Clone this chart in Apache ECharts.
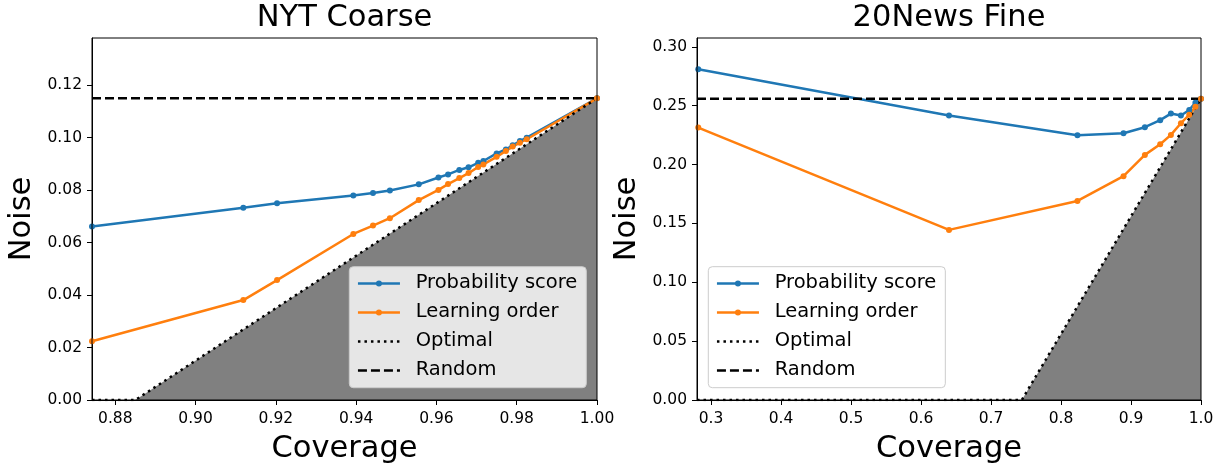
<!DOCTYPE html>
<html>
<head>
<meta charset="utf-8">
<title>Noise vs Coverage</title>
<script src="https://cdn.jsdelivr.net/npm/echarts@6/dist/echarts.min.js"></script>
<style>
  html, body { margin: 0; padding: 0; background: #fff; }
  #chart { width: 1225px; height: 467px; }
</style>
</head>
<body>
<div id="chart"></div>
<script>
// ---- NYT Coarse ----
const nytCoverage    = [0.8742, 0.9119, 0.9203, 0.9393, 0.9442, 0.9484, 0.9556, 0.9605, 0.9629, 0.9657, 0.9680, 0.9704, 0.9717, 0.9750, 0.9773, 0.9790, 0.9808, 0.9825, 1.0];
const nytProbability = [0.0661, 0.0733, 0.0750, 0.0780, 0.0789, 0.0799, 0.0822, 0.0848, 0.0860, 0.0877, 0.0887, 0.0904, 0.0911, 0.0940, 0.0955, 0.0971, 0.0987, 0.1000, 0.1150];
const nytLearning    = [0.0224, 0.0381, 0.0457, 0.0633, 0.0665, 0.0693, 0.0762, 0.0801, 0.0823, 0.0846, 0.0865, 0.0888, 0.0898, 0.0927, 0.0949, 0.0966, 0.0981, 0.0994, 0.1150];
const nytOptimalX    = [0.8742, 0.885, 1.0];
const nytOptimalY    = [0, 0, 0.115];
const nytRandomX     = [0.8742, 1.0];
const nytRandomY     = [0.115, 0.115];
const nytXTicks      = [0.88, 0.90, 0.92, 0.94, 0.96, 0.98, 1.00];
const nytYTicks      = [0.00, 0.02, 0.04, 0.06, 0.08, 0.10, 0.12];

// ---- 20News Fine ----
const newsCoverage    = [0.2818, 0.6400, 0.8235, 0.8893, 0.9198, 0.9417, 0.9570, 0.9713, 0.9832, 0.9920, 1.0];
const newsProbability = [0.2810, 0.2416, 0.2249, 0.2266, 0.2317, 0.2377, 0.2433, 0.2416, 0.2464, 0.2525, 0.2560];
const newsLearning    = [0.2314, 0.1445, 0.1691, 0.1901, 0.2082, 0.2173, 0.2252, 0.2351, 0.2422, 0.2490, 0.2560];
const newsOptimalX    = [0.28, 0.744, 1.0];
const newsOptimalY    = [0, 0, 0.256];
const newsRandomX     = [0.28, 1.0];
const newsRandomY     = [0.256, 0.256];
const newsXTicks      = [0.3, 0.4, 0.5, 0.6, 0.7, 0.8, 0.9, 1.0];
const newsYTicks      = [0.00, 0.05, 0.10, 0.15, 0.20, 0.25, 0.30];

const FONT = 'DejaVu Sans';
const BLUE = '#1f77b4';
const ORANGE = '#ff7f0e';
const LINE_W = 2.5;

function zip(xs, ys) { return xs.map((x, i) => [x, ys[i]]); }

function xAxisFor(gridIndex, min, max, ticks, digits) {
  return {
    type: 'value', gridIndex, min, max,
    name: 'Coverage', nameLocation: 'middle', nameGap: 28.5,
    nameTextStyle: { fontFamily: FONT, fontSize: 30.5, color: '#000', lineHeight: 36 },
    axisLine: { show: true, onZero: false, lineStyle: { color: '#000', width: 1 } },
    axisTick: { show: true, length: 5, customValues: ticks, lineStyle: { color: '#000', width: 1 } },
    axisLabel: { customValues: ticks, formatter: v => v.toFixed(digits), margin: 10.5,
                 fontFamily: FONT, fontSize: 15.5, lineHeight: 16, color: '#000' },
    splitLine: { show: false }
  };
}

function yAxisFor(gridIndex, min, max, ticks) {
  return {
    type: 'value', gridIndex, min, max,
    name: 'Noise', nameLocation: 'middle', nameGap: 52,
    nameTextStyle: { fontFamily: FONT, fontSize: 30.5, color: '#000', lineHeight: 36 },
    axisLine: { show: true, onZero: false, lineStyle: { color: '#000', width: 1 } },
    axisTick: { show: true, length: 5, customValues: ticks, lineStyle: { color: '#000', width: 1 } },
    axisLabel: { customValues: ticks, formatter: v => v.toFixed(2), margin: 10,
                 fontFamily: FONT, fontSize: 15.5, color: '#000' },
    splitLine: { show: false }
  };
}

function panelSeries(idx, cov, prob, learn, optX, optY, rndX, rndY) {
  const axes = { xAxisIndex: idx, yAxisIndex: idx };
  return [
    Object.assign({
      type: 'line', name: 'feasible region', data: zip(optX, optY), symbol: 'none', silent: true,
      lineStyle: { width: 0 }, areaStyle: { color: '#808080', opacity: 1 }, z: 1
    }, axes),
    Object.assign({
      type: 'line', name: 'Probability score', data: zip(cov, prob),
      symbol: 'circle', symbolSize: 6, showSymbol: true,
      lineStyle: { color: BLUE, width: LINE_W }, itemStyle: { color: BLUE }, z: 3
    }, axes),
    Object.assign({
      type: 'line', name: 'Learning order', data: zip(cov, learn),
      symbol: 'circle', symbolSize: 6, showSymbol: true,
      lineStyle: { color: ORANGE, width: LINE_W }, itemStyle: { color: ORANGE }, z: 3
    }, axes),
    Object.assign({
      type: 'line', name: 'Optimal', data: zip(optX, optY), symbol: 'none',
      lineStyle: { color: '#000', width: LINE_W, type: [2.5, 4] }, itemStyle: { color: '#000' }, z: 3
    }, axes),
    Object.assign({
      type: 'line', name: 'Random', data: zip(rndX, rndY), symbol: 'none',
      lineStyle: { color: '#000', width: LINE_W, type: [9, 4] }, itemStyle: { color: '#000' }, z: 3
    }, axes)
  ];
}

function legendAt(left) {
  return {
    orient: 'vertical', left, top: 266.7,
    data: [
      { name: 'Probability score' },
      { name: 'Learning order' },
      { name: 'Optimal', itemStyle: { opacity: 0 } },
      { name: 'Random', itemStyle: { opacity: 0 } }
    ],
    itemWidth: 42, itemHeight: 7.5, itemGap: 5,
    padding: [4.7, 9, 5.3, 7.4],
    backgroundColor: 'rgba(255,255,255,0.8)',
    borderColor: '#cccccc', borderWidth: 1, borderRadius: 4,
    selectedMode: false,
    lineStyle: { width: LINE_W },
    textStyle: { fontFamily: FONT, fontSize: 19.5, color: '#000', lineHeight: 24, padding: [0, 0, 0, 10.7] }
  };
}

const chart = echarts.init(document.getElementById('chart'), null, { renderer: 'canvas' });

chart.setOption({
  animation: false,
  backgroundColor: '#fff',
  title: [
    { text: 'NYT Coarse', left: 344.5, top: 0, padding: 0, textAlign: 'center',
      textStyle: { fontFamily: FONT, fontSize: 30.5, fontWeight: 'normal', color: '#000', lineHeight: 36 } },
    { text: '20News Fine', left: 949, top: 0, padding: 0, textAlign: 'center',
      textStyle: { fontFamily: FONT, fontSize: 30.5, fontWeight: 'normal', color: '#000', lineHeight: 36 } }
  ],
  grid: [
    { left: 92, top: 38, width: 505, height: 362, show: true, borderColor: '#000', borderWidth: 1,
      backgroundColor: 'transparent', z: 5, containLabel: false, outerBoundsMode: 'none' },
    { left: 697, top: 38, width: 504, height: 362, show: true, borderColor: '#000', borderWidth: 1,
      backgroundColor: 'transparent', z: 5, containLabel: false, outerBoundsMode: 'none' }
  ],
  xAxis: [
    xAxisFor(0, 0.8742, 1.0, nytXTicks, 2),
    xAxisFor(1, 0.28, 1.0, newsXTicks, 1)
  ],
  yAxis: [
    yAxisFor(0, 0, 0.138, nytYTicks),
    yAxisFor(1, 0, 0.3075, newsYTicks)
  ],
  legend: [legendAt(349.3), legendAt(708.3)],
  series: [
    ...panelSeries(0, nytCoverage, nytProbability, nytLearning, nytOptimalX, nytOptimalY, nytRandomX, nytRandomY),
    ...panelSeries(1, newsCoverage, newsProbability, newsLearning, newsOptimalX, newsOptimalY, newsRandomX, newsRandomY)
  ]
});
</script>
</body>
</html>
